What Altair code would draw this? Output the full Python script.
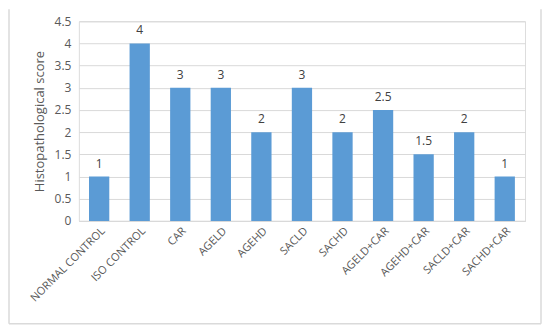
import altair as alt
import pandas as pd

categories = ["NORMAL CONTROL", "ISO CONTROL", "CAR", "AGELD", "AGEHD", "SACLD",
              "SACHD", "AGELD+CAR", "AGEHD+CAR", "SACLD+CAR", "SACHD+CAR"]
scores = [1, 4, 3, 3, 2, 3, 2, 2.5, 1.5, 2, 1]
score_labels = ["1", "4", "3", "3", "2", "3", "2", "2.5", "1.5", "2", "1"]
y_ticks = [0, 0.5, 1, 1.5, 2, 2.5, 3, 3.5, 4, 4.5]

df = pd.DataFrame({"group": categories, "score": scores, "label": score_labels})
one = pd.DataFrame({"k": [0]})

FONT = "Open Sans"
GRAY = "#595959"
BORDER = "#DADADA"

x = alt.X("group:N", sort=categories, title=None,
          scale=alt.Scale(paddingInner=0.5, paddingOuter=0.25),
          axis=alt.Axis(labelAngle=-45, labelAlign="right", labelBaseline="top",
                        labelFontSize=11, labelColor=GRAY, labelFont=FONT,
                        ticks=False, domainColor="#D9D9D9", labelPadding=4,
                        labelLimit=200))
y = alt.Y("score:Q", title="Histopathological score",
          scale=alt.Scale(domain=[0, 4.5], nice=False),
          axis=alt.Axis(values=y_ticks, labelOverlap=False,
                        format="~g", labelFontSize=12, labelColor=GRAY, labelFont=FONT,
                        titleFont=FONT, titleFontSize=13, titleColor=GRAY,
                        titleFontWeight="normal", domain=False, ticks=False,
                        gridColor="#D9D9D9", labelPadding=8, titlePadding=8))

bars = alt.Chart(df).mark_bar(color="#5B9BD5").encode(x=x, y=y)
text = alt.Chart(df).mark_text(dy=-13, fontSize=12, color="#404040", font=FONT).encode(
    x=x, y=y, text="label:N")

left_border = alt.Chart(one).mark_rule(color=BORDER, strokeWidth=1.5).encode(
    x=alt.value(-70), y=alt.value(-12), y2=alt.value(303))
right_border = alt.Chart(one).mark_rule(color=BORDER, strokeWidth=1.5).encode(
    x=alt.value(463), y=alt.value(-12), y2=alt.value(303))
bottom_border = alt.Chart(one).mark_rule(color=BORDER, strokeWidth=1.5).encode(
    x=alt.value(-70), x2=alt.value(463), y=alt.value(303))

chart = (bars + text + left_border + right_border + bottom_border).properties(
    width=447, height=200,
    padding={"left": 0, "top": 0, "right": 0, "bottom": 0},
).configure_view(stroke=None).configure(background="white")

chart.save("out.html", embed_options={"renderer": "svg", "actions": False})
